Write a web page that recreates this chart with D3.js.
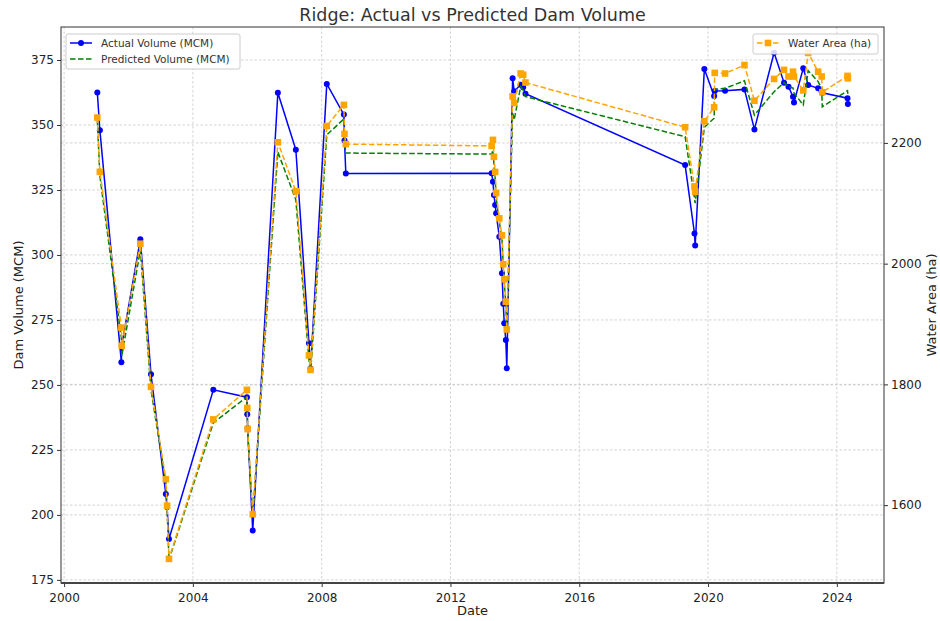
<!DOCTYPE html>
<html><head><meta charset="utf-8">
<script src="https://cdn.jsdelivr.net/npm/d3@7/dist/d3.min.js"></script>
<style>body{margin:0;background:#fff;} text{font-family:"DejaVu Sans",sans-serif;}</style>
</head><body>
<svg id="c" width="940" height="621"></svg>
<script>
const dates = [
 "2001-01-12","2001-02-10","2001-10-12","2001-10-16","2002-05-15","2002-09-13","2003-02-28","2003-03-14","2003-04-05",
 "2004-08-20","2005-09-05","2005-09-09","2005-09-13","2005-11-10","2006-08-22","2007-03-14","2007-08-10","2007-08-28","2008-02-28","2008-09-09","2008-09-16","2008-10-01",
 "2013-04-12","2013-04-27","2013-05-08","2013-05-22","2013-06-02","2013-07-08","2013-08-07","2013-08-22","2013-09-02","2013-09-20","2013-10-01","2013-12-06","2013-12-24","2014-03-07","2014-04-05","2014-05-01",
 "2019-04-16","2019-07-31","2019-08-08","2019-11-20","2020-03-10","2020-03-17","2020-07-12","2021-02-17","2021-06-10","2022-01-19","2022-05-12","2022-07-02","2022-08-22","2022-09-02","2022-12-16","2023-02-10","2023-06-03","2023-07-13","2023-07-20","2024-05-01","2024-05-05"
];
const actualVolume = [
 362.5,348,258.7,265.1,306,254.1,208,203,190.7,
 248.1,245.3,238.7,233.3,194,362.4,340.5,266,256.2,365.8,354,344,331.3,
 331.4,328.2,323.1,319.2,316,307,293,281.2,273.7,267.3,256.4,368,363,365.5,364.5,362,
 334.6,308.3,303.6,371.5,361.2,363.1,363.2,363.7,348.3,377.8,366.3,364.7,360.9,358.7,371.8,365.4,364.1,362.8,362.4,360.3,358.1
];
const predictedVolume = [
 351.9,330.4,268,261,301.9,248,212.7,202.7,182.7,
 235.4,245.4,240,232.3,199.6,339.6,321.2,259.6,254.6,346.2,352.3,343.5,339.2,
 338.8,340.4,335,329.6,321.9,312.7,306.5,295.4,289.6,280.8,270.4,354.5,352,364.7,363.5,360.9,
 345.5,322,319.9,349.1,352.6,363.7,364.1,367,353.8,362.8,366.3,364.7,364.2,362.3,357.7,370.9,366.7,364,357,363.2,362
];
const waterArea = [
 2242,2152,1894,1864,2033,1796,1643,1599,1511,
 1742,1791,1761,1726,1585,2201,2120,1848,1824,2228,2263,2215,2198,
 2195,2205,2177,2152,2117,2075,2047,1999,1974,1937,1891,2277,2266,2315,2313,2300,
 2226,2128,2119,2236,2259,2316,2315,2329,2270,2306,2321,2310,2318,2310,2287,2349,2318,2310,2284,2311,2307
];
const xTicks = ["2000","2004","2008","2012","2016","2020","2024"];
const yLeftTicks = [175,200,225,250,275,300,325,350,375];
const yRightTicks = [1600,1800,2000,2200];

const svg = d3.select("#c");
const L=61,R=884,T=27,B=583;
const parse = d3.timeParse("%Y-%m-%d");
const data = dates.map((d,i)=>({date:parse(d),a:actualVolume[i],p:predictedVolume[i],w:waterArea[i]}));
const x = d3.scaleTime().domain([parse("1999-11-27"),parse("2025-06-19")]).range([L,R]);
const y1 = d3.scaleLinear().domain([173.8,387.7]).range([B,T]);
const y2 = d3.scaleLinear().domain([1471,2392]).range([B,T]);

// grid
const g = svg.append("g");
const gridStyle = s => s.attr("stroke","#c8c8c8").attr("stroke-width",0.8).attr("stroke-dasharray","2.5,2");
xTicks.forEach(t=>{const xx=x(parse(t+"-01-01"));gridStyle(g.append("line").attr("x1",xx).attr("x2",xx).attr("y1",T).attr("y2",B));});
yLeftTicks.forEach(t=>gridStyle(g.append("line").attr("x1",L).attr("x2",R).attr("y1",y1(t)).attr("y2",y1(t))));
yRightTicks.forEach(t=>gridStyle(g.append("line").attr("x1",L).attr("x2",R).attr("y1",y2(t)).attr("y2",y2(t))));

// axes
const ax = svg.append("g").attr("transform",`translate(0,${B})`)
 .call(d3.axisBottom(x).tickValues(xTicks.map(t=>parse(t+"-01-01"))).tickFormat(d3.timeFormat("%Y")).tickSizeOuter(0).tickSize(4));
const ayl = svg.append("g").attr("transform",`translate(${L},0)`)
 .call(d3.axisLeft(y1).tickValues(yLeftTicks).tickFormat(d3.format("d")).tickSizeOuter(0).tickSize(4));
const ayr = svg.append("g").attr("transform",`translate(${R},0)`)
 .call(d3.axisRight(y2).tickValues(yRightTicks).tickFormat(d3.format("d")).tickSizeOuter(0).tickSize(4));
[ax,ayl,ayr].forEach(a=>{a.select(".domain").remove();a.selectAll("text").attr("font-size","12px").attr("fill","#222").style("font-family","DejaVu Sans");a.selectAll("line").attr("stroke","#333");});
ax.selectAll("text").attr("dy","1em");
// frame
svg.append("rect").attr("x",L).attr("y",T).attr("width",R-L).attr("height",B-T).attr("fill","none").attr("stroke","#333").attr("stroke-width",1);
svg.append("line").attr("x1",L).attr("x2",R).attr("y1",B).attr("y2",B).attr("stroke","#444").attr("stroke-width",1.8);

const plot = svg.append("g");
// actual
plot.append("path").datum(data).attr("fill","none").attr("stroke","blue").attr("stroke-width",1.5)
 .attr("d",d3.line().x(d=>x(d.date)).y(d=>y1(d.a)));
plot.selectAll(".ac").data(data).enter().append("circle").attr("cx",d=>x(d.date)).attr("cy",d=>y1(d.a)).attr("r",3).attr("fill","blue");
// predicted
plot.append("path").datum(data).attr("fill","none").attr("stroke","green").attr("stroke-width",1.5).attr("stroke-dasharray","5.5,2.5")
 .attr("d",d3.line().x(d=>x(d.date)).y(d=>y1(d.p)));
// water area
plot.append("path").datum(data).attr("fill","none").attr("stroke","orange").attr("stroke-width",1.5).attr("stroke-dasharray","5.5,2.5")
 .attr("d",d3.line().x(d=>x(d.date)).y(d=>y2(d.w)));
plot.selectAll(".wa").data(data).enter().append("rect").attr("x",d=>x(d.date)-3.3).attr("y",d=>y2(d.w)-3.3).attr("width",6.6).attr("height",6.6).attr("fill","orange");

// title and labels
svg.append("text").attr("x",(L+R)/2).attr("y",21).attr("text-anchor","middle").attr("font-size","17.5px").attr("fill","#333").text("Ridge: Actual vs Predicted Dam Volume");
svg.append("text").attr("x",(L+R)/2).attr("y",615).attr("text-anchor","middle").attr("font-size","13px").attr("fill","#222").text("Date");
svg.append("text").attr("transform",`translate(23,${(T+B)/2}) rotate(-90)`).attr("text-anchor","middle").attr("font-size","13px").attr("fill","#222").text("Dam Volume (MCM)");
svg.append("text").attr("transform",`translate(936,${(T+B)/2}) rotate(-90)`).attr("text-anchor","middle").attr("font-size","13px").attr("fill","#222").text("Water Area (ha)");

// legends
const lg1 = svg.append("g");
lg1.append("rect").attr("x",66).attr("y",34).attr("width",174).attr("height",35).attr("rx",2).attr("fill","rgba(255,255,255,0.85)").attr("stroke","#ccc");
lg1.append("line").attr("x1",70).attr("x2",92).attr("y1",43).attr("y2",43).attr("stroke","blue").attr("stroke-width",1.5);
lg1.append("circle").attr("cx",81).attr("cy",43).attr("r",3).attr("fill","blue");
lg1.append("text").attr("x",101).attr("y",47).attr("font-size","10.5px").attr("fill","#333").text("Actual Volume (MCM)");
lg1.append("line").attr("x1",70).attr("x2",92).attr("y1",59).attr("y2",59).attr("stroke","green").attr("stroke-width",1.5).attr("stroke-dasharray","5.5,2.5");
lg1.append("text").attr("x",101).attr("y",63).attr("font-size","10.5px").attr("fill","#333").text("Predicted Volume (MCM)");
const lg2 = svg.append("g");
lg2.append("rect").attr("x",753).attr("y",34).attr("width",125).attr("height",20).attr("rx",2).attr("fill","rgba(255,255,255,0.85)").attr("stroke","#ccc");
lg2.append("line").attr("x1",757).attr("x2",779).attr("y1",43).attr("y2",43).attr("stroke","orange").attr("stroke-width",1.5).attr("stroke-dasharray","5.5,2.5");
lg2.append("rect").attr("x",764.7).attr("y",39.7).attr("width",6.6).attr("height",6.6).attr("fill","orange");
lg2.append("text").attr("x",788).attr("y",47).attr("font-size","10.5px").attr("fill","#333").text("Water Area (ha)");
</script>
</body></html>
